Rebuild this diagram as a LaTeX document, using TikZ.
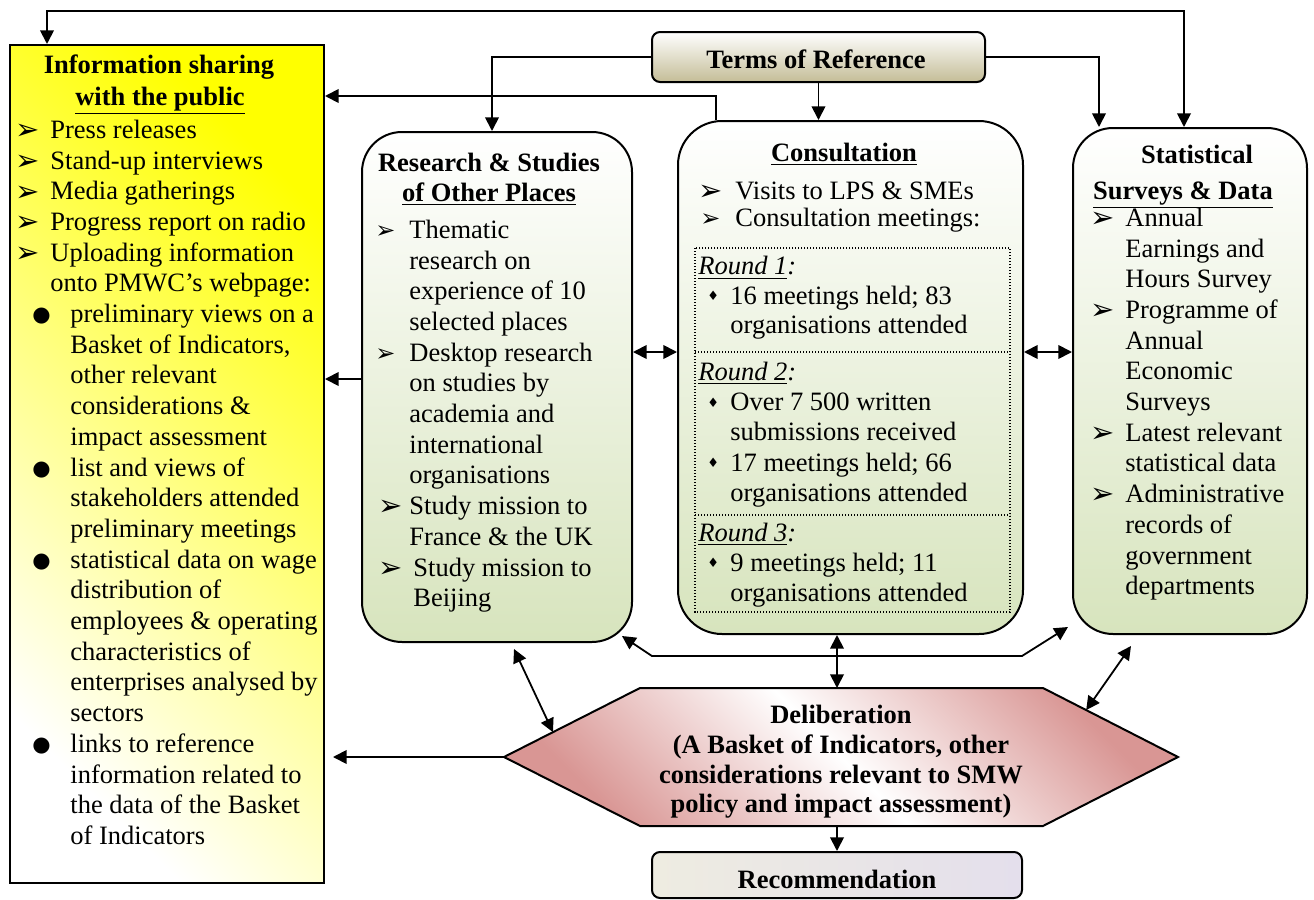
\documentclass[tikz,border=0pt]{standalone}
\usepackage{fontspec}
\setmainfont{Liberation Serif}
\newfontfamily\djv{DejaVu Sans}
\usetikzlibrary{arrows.meta,calc}
\definecolor{grn}{HTML}{D7E4BD}
\definecolor{tanc}{HTML}{C4BD97}
\definecolor{pnk}{HTML}{D99694}
\definecolor{recL}{HTML}{EEECE1}
\definecolor{recR}{HTML}{E4DFEC}
\definecolor{yel}{HTML}{FFFF00}
\newcommand\arwg{\raisebox{-0.6pt}{\djv\fontsize{14.5}{14.5}\selectfont ➢}}
\newcommand\arwsm{\raisebox{-0.2pt}{\djv\fontsize{12}{12}\selectfont ➢}}
\newcommand\dotg{\raisebox{0.5pt}{\djv\fontsize{10.5}{10.5}\selectfont ●}}
\newcommand\dmdg{\raisebox{1.8pt}{\djv\fontsize{6.5}{6.5}\selectfont ♦}}
\newcommand\IA{\makebox[17.5pt][l]{\arwg}}
\newcommand\IB{\hspace*{17.5pt}}
\newcommand\ID{\hspace*{8.5pt}\makebox[19pt][l]{\dotg}}
\newcommand\IE{\hspace*{27.5pt}}
\newcommand\RA{\makebox[17pt][l]{\arwsm}}
\newcommand\RB{\hspace*{17pt}}
\newcommand\DA{\hspace*{4.5pt}\makebox[11.5pt][l]{\dmdg}}
\newcommand\DB{\hspace*{16pt}}
\begin{document}
\begin{tikzpicture}[x=0.5pt,y=-0.5pt,
  box/.style={draw, line width=1pt, inner sep=0pt},
  tipa/.tip={Triangle[length=6.8pt,width=6.8pt]},
  conn/.style={line width=0.9pt, -tipa},
  conn2/.style={line width=0.9pt, tipa-tipa},
  txt/.style={inner sep=0pt, align=left, font=\fontsize{13.25}{15.35}\selectfont},
  hdr/.style={inner sep=0pt, font=\fontsize{13.25}{15.35}\selectfont\bfseries},
  dots/.style={line width=0.6pt, dash pattern=on 0.6pt off 0.9pt}]
\useasboundingbox (0,0) rectangle (1314,900);

% boxes
\node[box, minimum width=157pt, minimum height=419pt, left color=white, right color=yel, shading angle=135] (info) at (167,464) {};
\node[box, rounded corners=20pt, minimum width=135pt, minimum height=255pt, top color=white, bottom color=grn] (res) at (497,387) {};
\node[box, rounded corners=22pt, minimum width=172.5pt, minimum height=256.5pt, top color=white, bottom color=grn] (cons) at (850.5,377.5) {};
\node[box, rounded corners=20pt, minimum width=117pt, minimum height=253pt, top color=white, bottom color=grn] (stat) at (1190,381) {};
\node[box, rounded corners=4pt, minimum width=166.5pt, minimum height=25pt, top color=white, bottom color=tanc] (tor) at (818.5,57) {};
\node[box, rounded corners=4pt, minimum width=185pt, minimum height=23pt, left color=recL, right color=recR] (rec) at (837,875) {};

% hexagon
\coordinate (hL) at (504,757);
\coordinate (hTL) at (640,688);
\coordinate (hTR) at (1043,688);
\coordinate (hR) at (1178,757);
\coordinate (hBR) at (1043,826);
\coordinate (hBL) at (640,826);
\path[draw, line width=1pt, left color=pnk, right color=pnk, middle color=white, shading angle=135]
  (hL) -- (hTL) -- (hTR) -- (hR) -- (hBR) -- (hBL) -- cycle;

% dotted table
\draw[dots] (695,248) rectangle (1010,612);
\draw[dots] (695,352) -- (1010,352);
\draw[dots] (695,515) -- (1010,515);

% texts
\node[hdr, anchor=base] (tort) at (816,68) {Terms of Reference};
\node[hdr, anchor=base] (rect) at (837,888) {Recommendation};
\node[hdr, anchor=base] (ih1) at (159,73) {Information sharing};
\node[hdr, anchor=base] (ih2) at (160,105) {\underline{with the public}};
\node[hdr, anchor=base] (rh1) at (489,171) {Research \& Studies};
\node[hdr, anchor=base] (rh2) at (489,201) {\underline{of Other Places}};
\node[hdr, anchor=base] (ch1) at (844,161) {\underline{Consultation}};
\node[hdr, anchor=base] (sh1) at (1197,163) {Statistical};
\node[hdr, anchor=base] (sh2) at (1183,199) {\underline{Surveys \& Data}};
\node[hdr, align=center, font=\fontsize{13.25}{14.8}\selectfont\bfseries] (del) at (841,762)
  {Deliberation\\(A Basket of Indicators, other\\considerations relevant to SMW\\policy and impact assessment)};

\node[txt, anchor=north west] (ilist) at (15,116.5) {\strut\IA Press releases\\
\IA Stand-up interviews\\
\IA Media gatherings\\
\IA Progress report on radio\\
\IA Uploading information\\
\IB onto PMWC's webpage:\\
\ID preliminary views on a\\
\IE Basket of Indicators,\\
\IE other relevant\\
\IE considerations \&\\
\IE impact assessment\\
\ID list and views of\\
\IE stakeholders attended\\
\IE preliminary meetings\\
\ID statistical data on wage\\
\IE distribution of\\
\IE employees \& operating\\
\IE characteristics of\\
\IE enterprises analysed by\\
\IE sectors\\
\ID links to reference\\
\IE information related to\\
\IE the data of the Basket\\
\IE of Indicators};

\node[txt, anchor=north west] (rlist) at (375,216.5) {\strut\RA Thematic\\
\RB research on\\
\RB experience of 10\\
\RB selected places\\
\RA Desktop research\\
\RB on studies by\\
\RB academia and\\
\RB international\\
\RB organisations\\
\makebox[17pt][l]{\hspace*{1.5pt}\arwg}Study mission to\\
\RB France \& the UK\\
\makebox[17pt][l]{\hspace*{1.5pt}\arwg}\hspace*{2pt}Study mission to\\
\RB \hspace*{2pt}Beijing};

\node[txt, anchor=base west] (c1) at (698,199) {\makebox[18.5pt][l]{\arwg}Visits to LPS \& SMEs};
\node[txt, anchor=base west] (c2) at (700,226) {\makebox[17.5pt][l]{\arwsm}Consultation meetings:};
\node[txt, anchor=north west, font=\fontsize{13.25}{14.6}\selectfont] (r1) at (698,254) {\strut\underline{\textit{Round 1}}\textit{:}\\
\DA 16 meetings held; 83\\
\DB organisations attended};
\node[txt, anchor=north west, font=\fontsize{13.25}{15.1}\selectfont] (r2) at (698,359) {\strut\underline{\textit{Round 2}}\textit{:}\\
\DA Over 7 500 written\\
\DB submissions received\\
\DA 17 meetings held; 66\\
\DB organisations attended};
\node[txt, anchor=north west, font=\fontsize{13.25}{15}\selectfont] (r3) at (698,520) {\strut\underline{\textit{Round 3}}\textit{:}\\
\DA 9 meetings held; 11\\
\DB organisations attended};

\node[txt, anchor=north west] (slist) at (1090,204.5) {\strut\IA Annual\\
\IB Earnings and\\
\IB Hours Survey\\
\IA Programme of\\
\IB Annual\\
\IB Economic\\
\IB Surveys\\
\IA Latest relevant\\
\IB statistical data\\
\IA Administrative\\
\IB records of\\
\IB government\\
\IB departments};

% connectors
\draw[conn2] ($(info.north west)+(38,0)$) |- ($(stat.north west)+(112,-116)$) -- ($(stat.north west)+(112,0)$);
\draw[conn] (tor.west) -| ($(res.north west)+(131,0)$);
\draw[conn] (tor.south) -- (tor.south |- cons.north);
\draw[conn] (tor.east) -| ($(stat.north west)+(27,0)$);
\draw[conn] ($(cons.north west)+(39,0)$) |- ($(info.north east)+(0,52)$);
\draw[conn] ($(res.north west)+(0,248)$) -- ($(info.north east)+(0,335)$);
\draw[conn2] ($(res.north east)+(0,221)$) -- ($(cons.north west)+(0,232)$);
\draw[conn2] ($(cons.north east)+(0,232)$) -- ($(stat.north west)+(0,225)$);
\coordinate (cd) at ($(cons.south)+(-13.5,0)$);
\draw[conn2] (cd) -- (cd |- hTL);
\draw[conn2] ($(res.south west)+(153,6)$) -- ($(hL)!0.36!(hTL)$);
\draw[conn] (rec.north |- hBL) -- (rec.north);
\draw[conn] (hL) -- ($(info.east |- hL)+(8,0)$);
\draw[conn2] ($(res.south east)+(-11,-7)$) -- ($(res.south east)+(19,13)$) -- ($(stat.south west)+(-50,21)$) -- ($(stat.south west)+(-4,-8)$);
\draw[conn2] ($(hTR)!0.32!(hR)$) -- ($(stat.south west)+(59,11)$);
\end{tikzpicture}
\end{document}
